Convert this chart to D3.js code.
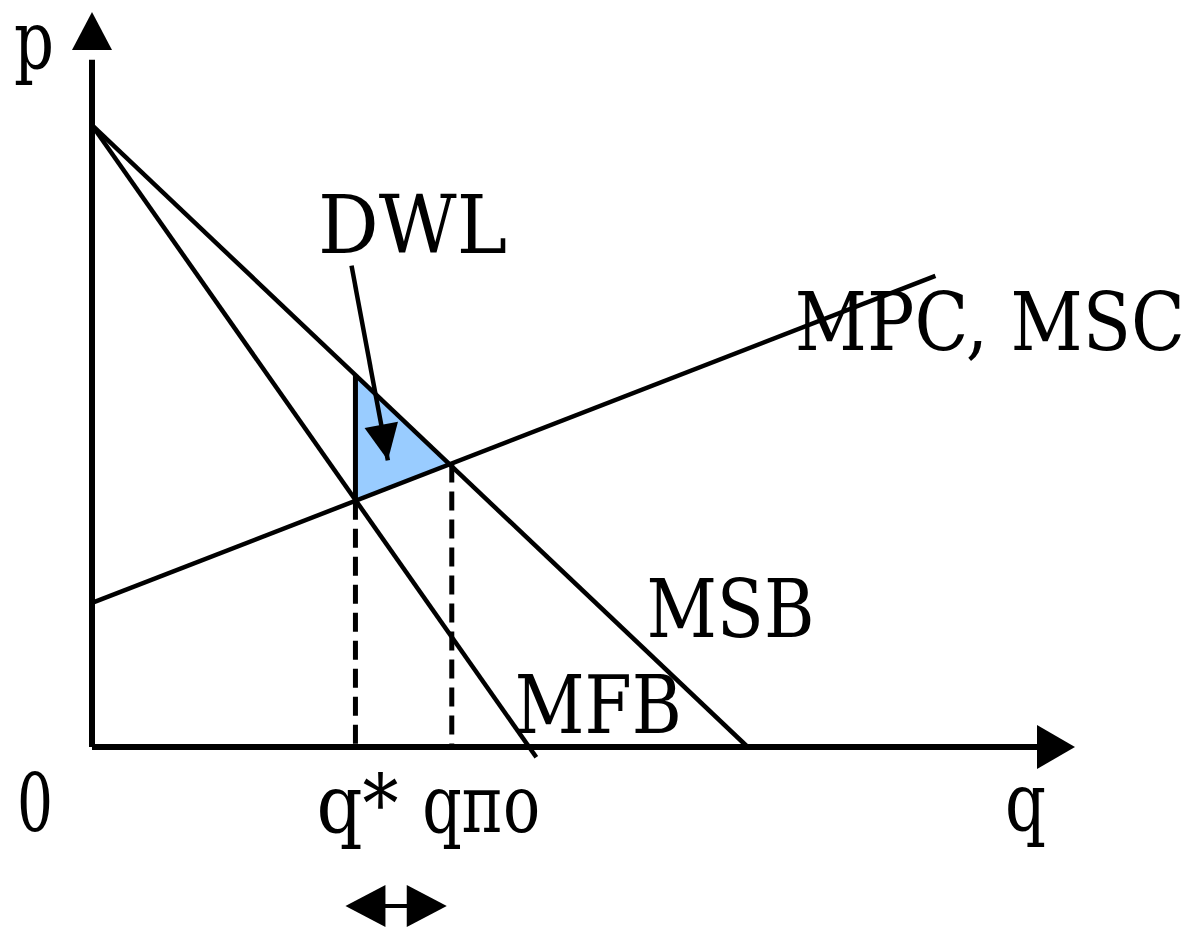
<!DOCTYPE html>
<html>
<head>
<meta charset="utf-8">
<script src="https://cdn.jsdelivr.net/npm/d3@7"></script>
<style>
  body { margin: 0; background: #fff; }
  text { font-family: "DejaVu Serif", "Liberation Serif", serif; fill: #000; }
</style>
</head>
<body>
<div id="chart"></div>
<script>
// curves, as [q, p] points
var mpcLine = [[0, 1.96], [8.58, 6.41]];   // MPC, MSC
var msbLine = [[0, 8.46], [6.67, 0]];      // MSB
var mfbLine = [[0, 8.46], [4.52, -0.14]];  // MFB

// quantities marked on the q axis
var qStar = 2.68;
var qPo = 3.66;

// DWL pointer, start and end
var dwlPointer = [[2.64, 6.55], [3.01, 3.9]];

// labels: text, q, p, width in px
var curveLabels = [
  { text: "DWL", q: 2.30, p: 6.72, w: 189 },
  { text: "MPC, MSC", q: 7.15, p: 5.40, w: 390 },
  { text: "MSB", q: 5.64, p: 1.50, w: 168 },
  { text: "MFB", q: 4.30, p: 0.19, w: 167 }
];
var tickLabels = [
  { text: "q*", q: qStar + 0.02, w: 82 },
  { text: "qпо", q: qPo + 0.3, w: 118 }
];

var width = 1193, height = 931;

var svg = d3.select("#chart")
  .append("svg")
    .attr("width", width)
    .attr("height", height);

// scales
var x = d3.scaleLinear().domain([0, 10]).range([92, 1075]);
var y = d3.scaleLinear().domain([0, 10]).range([747, 12]);

var line = d3.line()
  .x(function(d) { return x(d[0]); })
  .y(function(d) { return y(d[1]); });

// value of a straight curve at q
function valueAt(pts, q) {
  var t = (q - pts[0][0]) / (pts[1][0] - pts[0][0]);
  return pts[0][1] + t * (pts[1][1] - pts[0][1]);
}

// DWL triangle
var dwl = [
  [qStar, valueAt(msbLine, qStar)],
  [qPo, valueAt(mpcLine, qPo)],
  [qStar, valueAt(mpcLine, qStar)]
];
svg.append("path")
  .attr("d", line(dwl) + "Z")
  .attr("fill", "#99ccff")
  .attr("stroke", "none");

// triangle left edge
svg.append("path")
  .attr("d", line([dwl[0], dwl[2]]))
  .attr("stroke", "#000")
  .attr("stroke-width", 5)
  .attr("fill", "none");

// dashed drop lines
[[qStar, valueAt(mpcLine, qStar)], [qPo, valueAt(mpcLine, qPo)]].forEach(function(d) {
  svg.append("path")
    .attr("d", line([d, [d[0], 0]]))
    .attr("stroke", "#000")
    .attr("stroke-width", 5)
    .attr("stroke-dasharray", "19,9")
    .attr("fill", "none");
});

// curves
[mpcLine, msbLine, mfbLine].forEach(function(pts) {
  svg.append("path")
    .attr("d", line(pts))
    .attr("stroke", "#000")
    .attr("stroke-width", 4.5)
    .attr("fill", "none");
});

// axes
svg.append("path")
  .attr("d", line([[0, 0], [0, 9.35]]))
  .attr("stroke", "#000")
  .attr("stroke-width", 6)
  .attr("fill", "none");
svg.append("path")
  .attr("d", line([[0, 0], [9.65, 0]]))
  .attr("stroke", "#000")
  .attr("stroke-width", 6)
  .attr("fill", "none");

// arrowhead helper: tip, direction angle, length, half width
function arrowHead(tx, ty, ang, len, hw) {
  var c = Math.cos(ang), s = Math.sin(ang);
  var bx = tx - c * len, by = ty - s * len;
  return "M" + tx + "," + ty +
    "L" + (bx - s * hw) + "," + (by + c * hw) +
    "L" + (bx + s * hw) + "," + (by - c * hw) + "Z";
}

svg.append("path")
  .attr("d", arrowHead(x(0), y(10), -Math.PI / 2, 38, 20))
  .attr("fill", "#000");
svg.append("path")
  .attr("d", arrowHead(x(10), y(0), 0, 38, 22));

// DWL pointer
var p0 = dwlPointer[0], p1 = dwlPointer[1];
var ang = Math.atan2(y(p1[1]) - y(p0[1]), x(p1[0]) - x(p0[0]));
svg.append("path")
  .attr("d", line(dwlPointer))
  .attr("stroke", "#000")
  .attr("stroke-width", 4.5)
  .attr("fill", "none");
svg.append("path")
  .attr("d", arrowHead(x(p1[0]), y(p1[1]), ang, 36, 17))
  .attr("fill", "#000");

// double arrow under q axis
var arrY = 906;
svg.append("path")
  .attr("d", "M" + (x(qStar) + 20) + "," + arrY + "L" + (x(qPo) - 20) + "," + arrY)
  .attr("stroke", "#000")
  .attr("stroke-width", 4);
svg.append("path")
  .attr("d", arrowHead(x(qStar) - 10, arrY, Math.PI, 40, 21));
svg.append("path")
  .attr("d", arrowHead(x(qPo) - 5, arrY, 0, 40, 21));

// curve labels
svg.selectAll(".clabel")
  .data(curveLabels)
  .enter().append("text")
    .attr("class", "clabel")
    .attr("x", function(d) { return x(d.q); })
    .attr("y", function(d) { return y(d.p); })
    .attr("textLength", function(d) { return d.w; })
    .attr("lengthAdjust", "spacingAndGlyphs")
    .style("font-size", "80px")
    .text(function(d) { return d.text; });

// q axis tick labels
svg.selectAll(".tlabel")
  .data(tickLabels)
  .enter().append("text")
    .attr("class", "tlabel")
    .attr("x", function(d) { return x(d.q); })
    .attr("y", 832)
    .attr("text-anchor", "middle")
    .attr("textLength", function(d) { return d.w; })
    .attr("lengthAdjust", "spacingAndGlyphs")
    .style("font-size", "80px")
    .text(function(d) { return d.text; });

// axis names and origin
svg.append("text").attr("x", 14).attr("y", 68)
  .attr("textLength", 40).attr("lengthAdjust", "spacingAndGlyphs")
  .style("font-size", "80px").text("p");
svg.append("text").attr("x", 1005).attr("y", 830)
  .attr("textLength", 41).attr("lengthAdjust", "spacingAndGlyphs")
  .style("font-size", "80px").text("q");
svg.append("text").attr("x", 17).attr("y", 831)
  .attr("textLength", 36).attr("lengthAdjust", "spacingAndGlyphs")
  .style("font-size", "80px").text("0");
</script>
</body>
</html>
